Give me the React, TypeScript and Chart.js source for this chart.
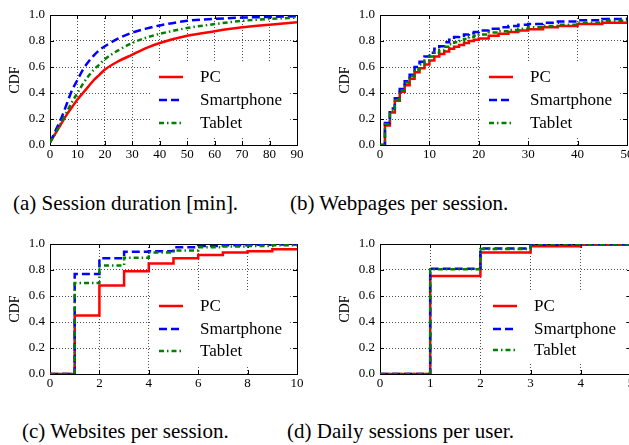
import React, { useEffect, useRef } from 'react';
import { Chart, registerables } from 'chart.js';
Chart.register(...registerables);

// (a) Session duration [min]
const durX = [0, 2, 4, 6, 8, 10, 12, 14, 16, 18, 20, 25, 30, 35, 40, 50, 60, 70, 80, 90];
const durPC = [0.02, 0.09, 0.16, 0.23, 0.29, 0.35, 0.40, 0.45, 0.50, 0.54, 0.58, 0.645, 0.695, 0.745, 0.785, 0.84, 0.875, 0.905, 0.925, 0.945];
const durPhone = [0.02, 0.11, 0.2, 0.31, 0.42, 0.5, 0.58, 0.64, 0.69, 0.73, 0.76, 0.82, 0.865, 0.895, 0.92, 0.955, 0.97, 0.98, 0.985, 0.99];
const durTablet = [0.02, 0.09, 0.17, 0.25, 0.33, 0.40, 0.47, 0.53, 0.58, 0.62, 0.66, 0.73, 0.785, 0.825, 0.855, 0.90, 0.93, 0.955, 0.97, 0.98];

// (b) Webpages per session
const pageX = [0, 1, 2, 3, 4, 5, 6, 7, 8, 9, 10, 11, 12, 13, 14, 15, 16, 17, 18, 19, 20, 22, 24, 26, 28, 30, 33, 36, 40, 45, 50];
const pagePC = [0, 0.15, 0.25, 0.34, 0.41, 0.46, 0.51, 0.56, 0.59, 0.62, 0.65, 0.68, 0.70, 0.72, 0.74, 0.755, 0.77, 0.785, 0.80, 0.81, 0.82, 0.84, 0.855, 0.87, 0.88, 0.89, 0.905, 0.915, 0.93, 0.94, 0.95];
const pagePhone = [0, 0.17, 0.28, 0.36, 0.43, 0.49, 0.54, 0.60, 0.64, 0.68, 0.71, 0.74, 0.76, 0.79, 0.81, 0.83, 0.84, 0.85, 0.86, 0.87, 0.88, 0.895, 0.905, 0.915, 0.925, 0.93, 0.94, 0.95, 0.96, 0.97, 0.98];
const pageTablet = [0, 0.16, 0.26, 0.35, 0.42, 0.48, 0.53, 0.58, 0.62, 0.65, 0.68, 0.71, 0.73, 0.755, 0.775, 0.79, 0.80, 0.815, 0.83, 0.84, 0.85, 0.865, 0.875, 0.885, 0.895, 0.905, 0.915, 0.925, 0.94, 0.955, 0.965];

// (c) Websites per session
const siteX = [0, 1, 2, 3, 4, 5, 6, 7, 8, 9, 10];
const sitePC = [0, 0.45, 0.68, 0.79, 0.85, 0.89, 0.915, 0.935, 0.945, 0.96, 0.965];
const sitePhone = [0, 0.77, 0.89, 0.94, 0.945, 0.975, 0.985, 0.99, 0.995, 0.997, 1.0];
const siteTablet = [0, 0.70, 0.835, 0.895, 0.935, 0.95, 0.975, 0.98, 0.985, 0.99, 0.99];

// (d) Daily sessions per user
const dailyX = [0, 1, 2, 3, 4, 5];
const dailyPC = [0, 0.753, 0.935, 0.982, 0.995, 1.0];
const dailyPhone = [0, 0.81, 0.966, 0.995, 1.0, 1.0];
const dailyTablet = [0, 0.805, 0.961, 0.997, 1.0, 1.0];

const seriesNames = ['PC', 'Smartphone', 'Tablet'];
const yTicks = [0, 0.2, 0.4, 0.6, 0.8, 1.0];
const captions = [
  '(a) Session duration [min].',
  '(b) Webpages per session.',
  '(c) Websites per session.',
  '(d) Daily sessions per user.',
];

const FONT = '"Liberation Serif", "Times New Roman", Times, "DejaVu Serif", serif';
const styles = [
  { color: '#ff0000', dash: [] as number[] },
  { color: '#0000ff', dash: [8, 4] },
  { color: '#008000', dash: [5, 3, 1.5, 3] },
];

type PanelProps = {
  left: number;
  top: number;
  xs: number[];
  ys: number[][];
  xMax: number;
  xStep: number;
  stepped: boolean;
  rightPad: number;
  legendX: number;
  legendY: number[];
};

function Panel(p: PanelProps) {
  const ref = useRef<HTMLCanvasElement>(null);
  useEffect(() => {
    const canvas = ref.current!;
    const framePlugin = {
      id: 'frameTicks',
      beforeDatasetsDraw(chart: any) {
        const { ctx, chartArea: a, scales } = chart;
        ctx.save();
        ctx.setLineDash([]);
        ctx.strokeStyle = '#000';
        ctx.lineWidth = 1;
        ctx.strokeRect(Math.round(a.left) + 0.5, Math.round(a.top) + 0.5, Math.round(a.right - a.left), Math.round(a.bottom - a.top));
        const tl = 4;
        ctx.beginPath();
        scales.x.ticks.forEach((t: any) => {
          const px = Math.round(scales.x.getPixelForValue(t.value)) + 0.5;
          ctx.moveTo(px, a.bottom); ctx.lineTo(px, a.bottom - tl);
          ctx.moveTo(px, a.top); ctx.lineTo(px, a.top + tl);
        });
        scales.y.ticks.forEach((t: any) => {
          const py = Math.round(scales.y.getPixelForValue(t.value)) + 0.5;
          ctx.moveTo(a.left, py); ctx.lineTo(a.left + tl, py);
          ctx.moveTo(a.right, py); ctx.lineTo(a.right - tl, py);
        });
        ctx.stroke();
        ctx.restore();
      },
      afterDatasetsDraw(chart: any) {
        const { ctx } = chart;
        ctx.save();
        ctx.font = `17px ${FONT}`;
        let maxW = 0;
        seriesNames.forEach((n) => { maxW = Math.max(maxW, ctx.measureText(n).width); });
        const x0 = p.legendX;
        const textX = x0 + 41;
        const top = p.legendY[0] - 14;
        const bottom = p.legendY[p.legendY.length - 1] + 14;
        ctx.fillStyle = '#fff';
        ctx.fillRect(x0 - 8, top, textX + maxW + 8 - (x0 - 8), bottom - top);
        seriesNames.forEach((n, i) => {
          const y = p.legendY[i];
          ctx.strokeStyle = styles[i].color;
          ctx.lineWidth = 2.5;
          ctx.setLineDash(styles[i].dash);
          ctx.beginPath();
          ctx.moveTo(x0, y);
          ctx.lineTo(x0 + 24, y);
          ctx.stroke();
          ctx.fillStyle = '#000';
          ctx.textBaseline = 'middle';
          ctx.textAlign = 'left';
          ctx.fillText(n, textX, y + 1);
        });
        ctx.restore();
      },
    };

    const chart = new Chart(canvas, {
      type: 'line',
      data: {
        datasets: p.ys.map((ys, i) => ({
          label: seriesNames[i],
          data: p.xs.map((x, j) => ({ x, y: ys[j] })),
          borderColor: styles[i].color,
          borderDash: styles[i].dash,
          borderWidth: 2.5,
          pointRadius: 0,
          fill: false,
          stepped: p.stepped ? 'before' : false,
          cubicInterpolationMode: 'monotone',
          tension: p.stepped ? 0 : 0.4,
          order: 2 - i,
        })) as any,
      },
      options: {
        animation: false,
        responsive: false,
        devicePixelRatio: 1,
        layout: { padding: { top: 15, right: p.rightPad, left: 0, bottom: 0 } },
        plugins: { legend: { display: false }, tooltip: { enabled: false } },
        scales: {
          x: {
            type: 'linear',
            min: 0,
            max: p.xMax,
            afterFit: (s: any) => { s.height = 20; },
            ticks: {
              stepSize: p.xStep,
              autoSkip: false,
              maxRotation: 0,
              padding: 2,
              color: '#000',
              font: { family: FONT, size: 13 },
              callback: (v: any) => String(v),
            },
            grid: { color: '#222', lineWidth: 0.8, drawTicks: false },
            border: { display: false, dash: [1, 2] },
          },
          y: {
            type: 'linear',
            min: 0,
            max: 1,
            afterFit: (s: any) => { s.width = 50; },
            afterBuildTicks: (s: any) => { s.ticks = yTicks.map((v) => ({ value: v })); },
            ticks: {
              padding: 5,
              color: '#000',
              font: { family: FONT, size: 13 },
              callback: (v: any) => Number(v).toFixed(1),
            },
            grid: { color: '#222', lineWidth: 0.8, drawTicks: false },
            border: { display: false, dash: [1, 2] },
            title: {
              display: true,
              text: 'CDF',
              color: '#000',
              font: { family: FONT, size: 14 },
              padding: { top: 7, bottom: 0 },
            },
          },
        },
      },
      plugins: [framePlugin],
    });
    return () => chart.destroy();
  }, []);
  return (
    <canvas
      ref={ref}
      width={330}
      height={165}
      style={{ position: 'absolute', left: p.left, top: p.top, width: 330, height: 165 }}
    />
  );
}

export default function App() {
  const capStyle: React.CSSProperties = {
    position: 'absolute',
    fontFamily: FONT,
    fontSize: 21,
    lineHeight: 1,
    whiteSpace: 'nowrap',
    color: '#000',
  };
  return (
    <div style={{ position: 'fixed', left: 0, top: 0, width: 629, height: 445, overflow: 'hidden', background: '#fff' }}>
      <Panel left={0} top={0} xs={durX} ys={[durPC, durPhone, durTablet]} xMax={90} xStep={10} stepped={false} rightPad={33} legendX={159} legendY={[77, 100, 123]} />
      <Panel left={330} top={0} xs={pageX} ys={[pagePC, pagePhone, pageTablet]} xMax={50} xStep={10} stepped={true} rightPad={33} legendX={159} legendY={[77, 100, 123]} />
      <Panel left={0} top={229} xs={siteX} ys={[sitePC, sitePhone, siteTablet]} xMax={10} xStep={2} stepped={true} rightPad={33} legendX={159} legendY={[77, 100, 122]} />
      <Panel left={330} top={229} xs={dailyX} ys={[dailyPC, dailyPhone, dailyTablet]} xMax={5} xStep={1} stepped={true} rightPad={29} legendX={163} legendY={[77, 100, 121]} />
      <div style={{ ...capStyle, left: 13, top: 193 }}>{captions[0]}</div>
      <div style={{ ...capStyle, left: 290, top: 193 }}>{captions[1]}</div>
      <div style={{ ...capStyle, left: 22, top: 421 }}>{captions[2]}</div>
      <div style={{ ...capStyle, left: 287, top: 421 }}>{captions[3]}</div>
    </div>
  );
}
